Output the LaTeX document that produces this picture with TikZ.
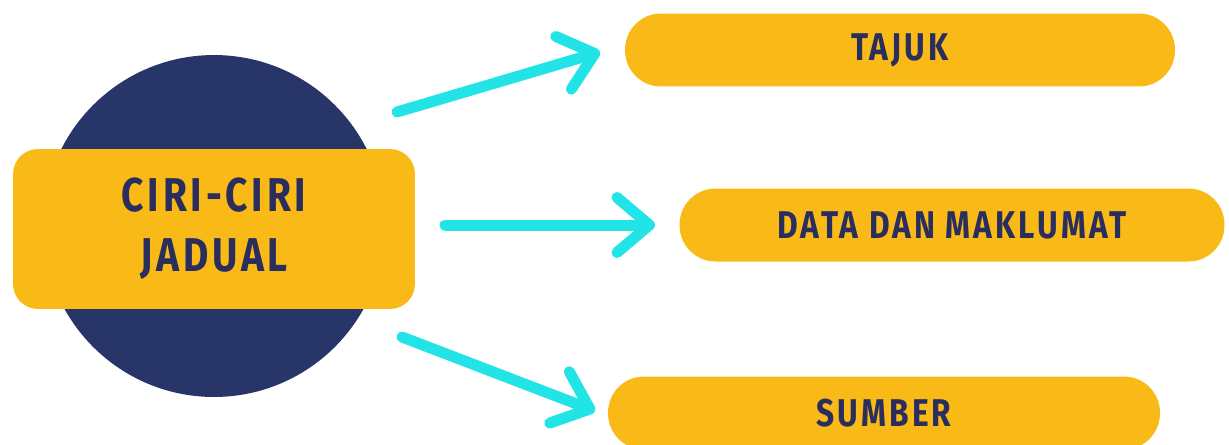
\documentclass[tikz,border=0pt]{standalone}
\usepackage{fontspec}
\setmainfont{Fira Sans}[FakeStretch=0.82,LetterSpace=8]
\usetikzlibrary{arrows.meta}
\definecolor{navy}{HTML}{283569}
\definecolor{kuning}{HTML}{F9BA17}
\definecolor{biru}{HTML}{22E3E6}
\definecolor{teks}{HTML}{2A2E5E}
\begin{document}
\begin{tikzpicture}[x=0.02cm,y=-0.02cm,
	hub/.style={fill=kuning,rounded corners=0.5cm,minimum width=8.04cm,minimum height=3.2cm,align=center,text=teks,font=\bfseries\fontsize{27}{34}\selectfont},
	item/.style={fill=kuning,rounded corners=0.72cm,minimum width=11cm,minimum height=1.46cm,text=teks,font=\bfseries\fontsize{22}{26}\selectfont},
	panah/.style={draw=biru,line width=0.22cm,line cap=round,line join=round,-{Straight Barb[length=0.65cm,width=1.1cm,round]}}]
		\useasboundingbox (0,0) rectangle (1229,444);
		\fill[navy] (214,226) circle (3.42cm);
		\node[hub] (ciri) at (214,229) {CIRI-CIRI\\JADUAL};
		\node[item] (tajuk) at (900,50) {TAJUK};
		\node[item,minimum width=10.9cm] (data) at (952,225) {DATA DAN MAKLUMAT};
		\node[item,minimum width=11.04cm] (sumber) at (884,413) {SUMBER};
		% arrows
		\coordinate (a1) at (397,112);
		\coordinate (a2) at (445,225);
		\coordinate (a3) at (402,337);
		\coordinate (b1) at (600,52);
		\coordinate (b2) at (655,225);
		\coordinate (b3) at (595,411);
		\draw[panah] (a1) -- (b1);
		\draw[panah] (a2) -- (b2);
		\draw[panah] (a3) -- (b3);
\end{tikzpicture}
\end{document}
